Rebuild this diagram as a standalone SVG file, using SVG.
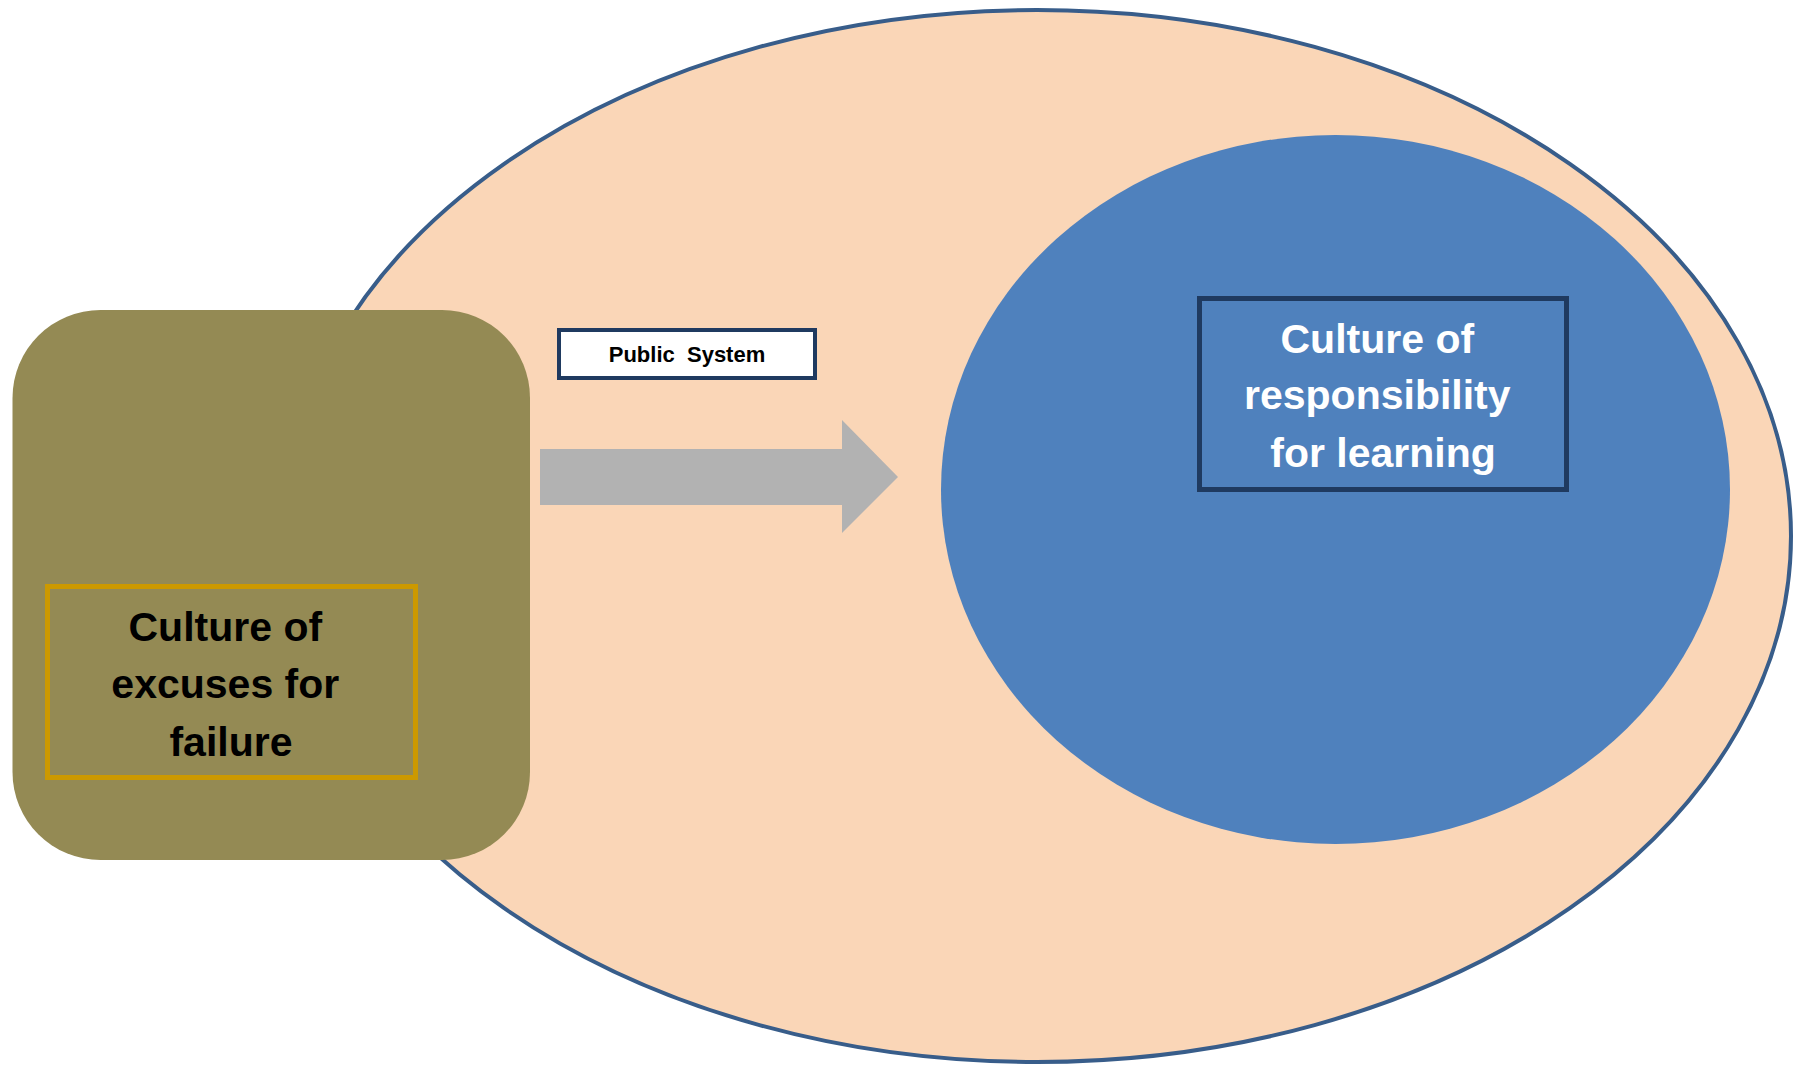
<svg xmlns="http://www.w3.org/2000/svg" width="1801" height="1067" viewBox="0 0 1801 1067">
  <style>
    .lbl { font-family: "Liberation Sans", Arial, sans-serif; font-weight: bold; text-anchor: middle; }
    .big { font-size: 41px; }
    .small { font-size: 22px; }
  </style>
  <rect x="0" y="0" width="1801" height="1067" fill="#FFFFFF"/>
  <g id="public-system-ellipse">
    <ellipse cx="1037" cy="536" rx="754" ry="526" fill="#FAD6B7" stroke="#385D8A" stroke-width="4"/>
  </g>
  <g id="responsibility-ellipse">
    <ellipse cx="1335.5" cy="489.5" rx="394.5" ry="354.5" fill="#4F81BD"/>
  </g>
  <g id="excuses-node">
    <rect x="12.5" y="310" width="517.5" height="550" rx="88" ry="88" fill="#948A54"/>
    <rect x="47.5" y="586.5" width="368" height="191" fill="none" stroke="#CC9900" stroke-width="5"/>
    <text class="lbl big" fill="#000000">
      <tspan x="231" y="641">Culture of</tspan>
      <tspan x="231" y="698">excuses for</tspan>
      <tspan x="231" y="756">failure</tspan>
    </text>
  </g>
  <g id="connectors">
    <polygon points="540,449 842,449 842,420 898,477 842,533 842,505 540,505" fill="#B2B2B2"/>
  </g>
  <g id="public-system-label">
    <rect x="559" y="330" width="256" height="48" fill="#FFFFFF" stroke="#1F3A60" stroke-width="4"/>
    <text class="lbl small" x="687" y="362" fill="#000000" xml:space="preserve">Public  System</text>
  </g>
  <g id="responsibility-node">
    <rect x="1199.5" y="298.5" width="367" height="191" fill="none" stroke="#1F3A60" stroke-width="5"/>
    <text class="lbl big" fill="#FFFFFF">
      <tspan x="1383" y="353">Culture of</tspan>
      <tspan x="1383" y="409">responsibility</tspan>
      <tspan x="1383" y="467">for learning</tspan>
    </text>
  </g>
</svg>
